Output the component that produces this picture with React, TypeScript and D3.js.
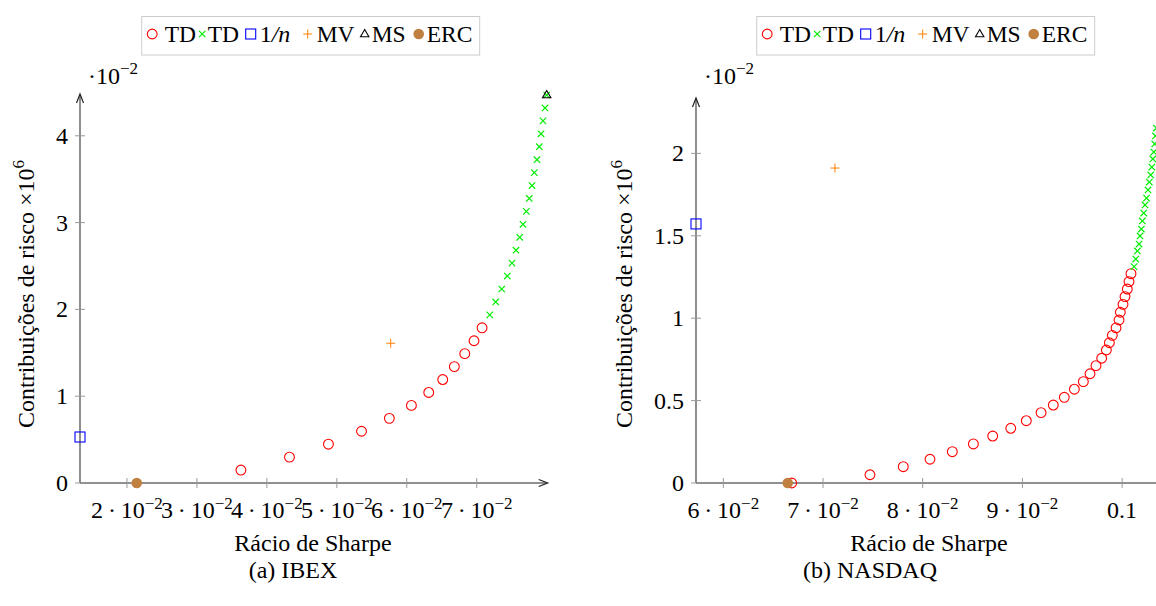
import React from "react";
import * as d3 from "d3";

const W = 1156,
  H = 606;
const FONT = "'Liberation Serif', 'DejaVu Serif', serif";
const FS = 24;

// IBEX (y values in units of 10^-2)
const ibexRedX = [0.03629, 0.04323, 0.0488, 0.05353, 0.05751, 0.06066, 0.06314, 0.06514, 0.0668, 0.06829, 0.06961, 0.07076];
const ibexRedY = [0.149, 0.298, 0.447, 0.596, 0.745, 0.894, 1.043, 1.192, 1.341, 1.49, 1.639, 1.788];
const ibexGreenX = [0.07186, 0.07271, 0.07357, 0.07437, 0.07504, 0.07561, 0.07614, 0.07661, 0.07709, 0.07751, 0.0779, 0.07823, 0.07861, 0.07894, 0.07919, 0.07947, 0.07976, 0.08];
const ibexGreenY = [1.937, 2.086, 2.235, 2.384, 2.533, 2.682, 2.831, 2.98, 3.129, 3.278, 3.427, 3.576, 3.725, 3.874, 4.023, 4.172, 4.321, 4.47];
const ibexOneN = [0.01329, 0.53];
const ibexMV = [0.0577, 1.61];
const ibexMS = [0.08, 4.47];
const ibexERC = [0.0214, 0];
const ibexXTicks = [0.02, 0.03, 0.04, 0.05, 0.06, 0.07];
const ibexYTicks = [0, 1, 2, 3, 4];

// NASDAQ
const nasRedX = [0.06686, 0.07471, 0.07805, 0.08073, 0.08297, 0.08508, 0.08702, 0.08883, 0.09039, 0.09187, 0.0931, 0.0942, 0.09521, 0.09611, 0.09678, 0.09738, 0.09795, 0.09842, 0.09872, 0.09902, 0.09939, 0.09969, 0.09982, 0.10009, 0.10029, 0.10052, 0.10069, 0.10089];
const nasRedY = [0, 0.05, 0.099, 0.144, 0.19, 0.237, 0.285, 0.332, 0.378, 0.427, 0.473, 0.52, 0.569, 0.615, 0.663, 0.712, 0.757, 0.807, 0.851, 0.896, 0.941, 0.989, 1.036, 1.084, 1.131, 1.177, 1.222, 1.27];
const nasGreenX = [0.1012, 0.10137, 0.10153, 0.1017, 0.1018, 0.10193, 0.10203, 0.10217, 0.1023, 0.10245, 0.1026, 0.10273, 0.10287, 0.10298, 0.10308, 0.10318, 0.10327, 0.10335, 0.10343];
const nasGreenY = [1.313, 1.359, 1.408, 1.45, 1.499, 1.541, 1.59, 1.638, 1.687, 1.729, 1.778, 1.826, 1.869, 1.917, 1.966, 2.008, 2.057, 2.106, 2.154];
const nasOneN = [0.05726, 1.572];
const nasMV = [0.0712, 1.911];
const nasERC = [0.06646, 0];
const nasXTicks = [0.06, 0.07, 0.08, 0.09, 0.1];
const nasYTicks = [0, 0.5, 1, 1.5, 2];

const RED = "#ff0000",
  GREEN = "#00ee00",
  BLUE = "#0000ff",
  ORANGE = "#ff8000",
  BROWN = "#bf8040";

const legendItems = ["TD", "TD", "1/n", "MV", "MS", "ERC"];
const legendMarkerOff = [10.5, 60.5, 109, 166, 223, 277];
const legendTextOff = [23, 66, 118, 175, 230, 285];

function Marker({ kind, x, y }: { kind: string; x: number; y: number }) {
  if (kind === "circle") return <circle cx={x} cy={y} r={4.9} fill="none" stroke={RED} strokeWidth={1.1} />;
  if (kind === "cross")
    return <path d={`M${x - 3.2},${y - 3.2}L${x + 3.2},${y + 3.2}M${x - 3.2},${y + 3.2}L${x + 3.2},${y - 3.2}`} stroke={GREEN} strokeWidth={1.2} />;
  if (kind === "square") return <rect x={x - 5} y={y - 5} width={10} height={10} fill="none" stroke={BLUE} strokeWidth={1.1} />;
  if (kind === "plus")
    return <path d={`M${x - 4.5},${y}L${x + 4.5},${y}M${x},${y - 4.5}L${x},${y + 4.5}`} stroke={ORANGE} strokeWidth={1} />;
  if (kind === "tri")
    return <path d={`M${x},${y - 4.5}L${x + 4.2},${y + 2.7}L${x - 4.2},${y + 2.7}Z`} fill="none" stroke="#000" strokeWidth={1.1} />;
  return <circle cx={x} cy={y} r={5.3} fill={BROWN} />;
}

const legendKinds = ["circle", "cross", "square", "plus", "tri", "dot"];

function Legend({ x0 }: { x0: number }) {
  return (
    <g>
      <rect x={x0} y={16.5} width={338} height={38.5} fill="#fff" stroke="#ccc" strokeWidth={1} />
      {legendItems.map((t, i) => (
        <g key={i}>
          <Marker kind={legendKinds[i]} x={x0 + legendMarkerOff[i]} y={34} />
          {t === "1/n" ? (
            <text x={x0 + legendTextOff[i]} y={42} fontSize={24}>
              1<tspan fontStyle="italic">{"/n"}</tspan>
            </text>
          ) : (
            <text x={x0 + legendTextOff[i]} y={42} fontSize={23.5}>
              {t}
            </text>
          )}
        </g>
      ))}
    </g>
  );
}

function TickLabel({ v, x, y }: { v: number; x: number; y: number }) {
  if (v >= 0.1 - 1e-9)
    return (
      <text x={x} y={y} textAnchor="middle" fontSize={FS}>
        {d3.format(".1f")(v)}
      </text>
    );
  const m = Math.round(v * 100);
  return (
    <text x={x} y={y} textAnchor="middle" fontSize={FS}>
      {`${m}\u2009·\u200910`}
      <tspan fontSize={17} dy={-9}>
        −2
      </tspan>
    </text>
  );
}

type PanelProps = {
  x: d3.ScaleLinear<number, number>;
  y: d3.ScaleLinear<number, number>;
  xTicks: number[];
  yTicks: number[];
  redX: number[];
  redY: number[];
  greenX: number[];
  greenY: number[];
  oneN: number[];
  mv: number[];
  ms?: number[];
  erc: number[];
  yLabelX: number;
  xTitleX: number;
  caption: string;
  captionX: number;
  xEnd: number;
};

function Panel(p: PanelProps) {
  const [x0] = p.x.range();
  const [yb, yt] = p.y.range();
  const xe = p.xEnd;
  const yMid = 294;
  return (
    <g>
      {/* axes */}
      <line x1={x0} y1={yb} x2={xe} y2={yb} stroke="#222" strokeWidth={1.2} />
      <path d={`M${xe - 8},${yb - 3.5}L${xe + 1},${yb}L${xe - 8},${yb + 3.5}`} fill="none" stroke="#222" strokeWidth={1.2} />
      <line x1={x0} y1={yb} x2={x0} y2={yt} stroke="#444" strokeWidth={1.2} />
      <path d={`M${x0 - 3.5},${yt + 8}L${x0},${yt - 1}L${x0 + 3.5},${yt + 8}`} fill="none" stroke="#222" strokeWidth={1.2} />
      {p.xTicks.map((v) => (
        <g key={v}>
          <line x1={p.x(v)} x2={p.x(v)} y1={yb - 5} y2={yb + 5} stroke="#999" strokeWidth={1} />
          <TickLabel v={v} x={p.x(v)} y={518} />
        </g>
      ))}
      {p.yTicks.map((v) => (
        <g key={v}>
          <line x1={x0 - 5} x2={x0 + 5} y1={p.y(v)} y2={p.y(v)} stroke="#999" strokeWidth={1} />
          <text x={x0 - 12} y={p.y(v) + 8} textAnchor="end" fontSize={FS}>
            {v}
          </text>
        </g>
      ))}
      <text x={x0 + 8} y={84} fontSize={FS}>
        ·10
        <tspan fontSize={17} dy={-10}>
          −2
        </tspan>
      </text>
      <text x={p.xTitleX} y={551} textAnchor="middle" fontSize={FS}>
        Rácio de Sharpe
      </text>
      <text transform={`translate(${p.yLabelX},${yMid}) rotate(-90)`} textAnchor="middle" fontSize={FS}>
        Contribuições de risco ×10
        <tspan fontSize={17} dy={-10}>
          6
        </tspan>
      </text>
      <text x={p.captionX} y={578} textAnchor="middle" fontSize={FS}>
        {p.caption}
      </text>
      {/* marks */}
      {p.redX.map((v, i) => (
        <Marker key={"r" + i} kind="circle" x={p.x(v)} y={p.y(p.redY[i])} />
      ))}
      {p.greenX.map((v, i) => (
        <Marker key={"g" + i} kind="cross" x={p.x(v)} y={p.y(p.greenY[i])} />
      ))}
      <Marker kind="square" x={p.x(p.oneN[0])} y={p.y(p.oneN[1])} />
      <Marker kind="plus" x={p.x(p.mv[0])} y={p.y(p.mv[1])} />
      {p.ms && <Marker kind="tri" x={p.x(p.ms[0])} y={p.y(p.ms[1])} />}
      <Marker kind="dot" x={p.x(p.erc[0])} y={p.y(p.erc[1])} />
    </g>
  );
}

export default function App() {
  const xL = d3.scaleLinear().domain([0.01329, 0.08]).range([80, 546.7]);
  const yL = d3.scaleLinear().domain([0, 4.47]).range([483, 95]);
  const xR = d3.scaleLinear().domain([0.05726, 0.105]).range([696, 696 + (0.105 - 0.05726) * 9970]);
  const yR = d3.scaleLinear().domain([0, 2.33]).range([483, 99]);
  return (
    <svg
      width={W}
      height={H}
      viewBox={`0 0 ${W} ${H}`}
      style={{ position: "absolute", left: 0, top: 0, background: "#fff" }}
      fontFamily={FONT}
      fill="#000"
    >
      <rect width={W} height={H} fill="#fff" />
      <Legend x0={141.7} />
      <Legend x0={756.7} />
      <Panel
        x={xL}
        y={yL}
        xTicks={ibexXTicks}
        yTicks={ibexYTicks}
        redX={ibexRedX}
        redY={ibexRedY}
        greenX={ibexGreenX}
        greenY={ibexGreenY}
        oneN={ibexOneN}
        mv={ibexMV}
        ms={ibexMS}
        erc={ibexERC}
        yLabelX={34}
        xTitleX={313}
        caption="(a) IBEX"
        captionX={293}
        xEnd={546.7}
      />
      <Panel
        x={xR}
        y={yR}
        xTicks={nasXTicks}
        yTicks={nasYTicks}
        redX={nasRedX}
        redY={nasRedY}
        greenX={nasGreenX}
        greenY={nasGreenY}
        oneN={nasOneN}
        mv={nasMV}
        erc={nasERC}
        yLabelX={632}
        xTitleX={929}
        caption="(b) NASDAQ"
        captionX={870}
        xEnd={1170}
      />
    </svg>
  );
}
